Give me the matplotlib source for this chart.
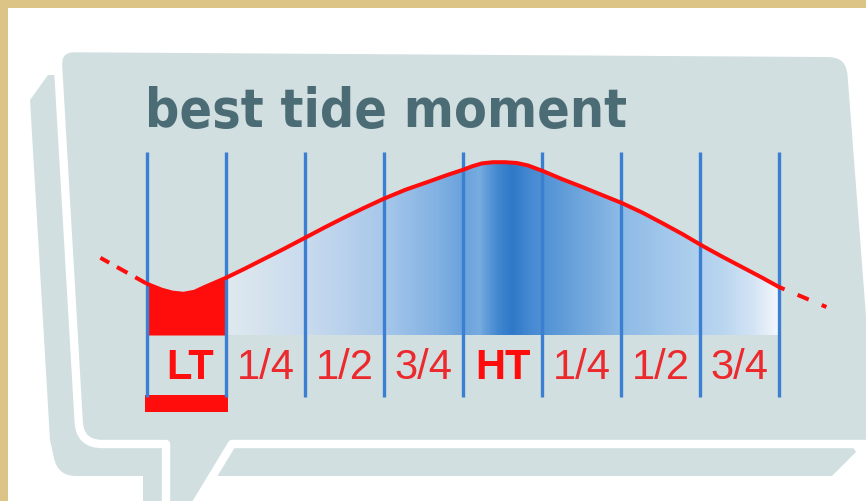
import numpy as np
import matplotlib
matplotlib.use('Agg')
import matplotlib.pyplot as plt
from matplotlib.path import Path
from matplotlib.patches import PathPatch, Rectangle
from matplotlib.colors import LinearSegmentedColormap
from matplotlib import font_manager

# tide stages: one grid line per quarter, LT at 0 and HT at 4
stage_labels = ['LT', '1/4', '1/2', '3/4', 'HT', '1/4', '1/2', '3/4']
stage_lines = np.arange(9)

# tide curve (stage, height)
tide_s = [0.0, 0.1, 0.19, 0.32, 0.46, 0.6, 0.73, 0.86, 1.0, 1.23, 1.46, 1.73,
          2.0, 2.25, 2.51, 2.75, 2.99, 3.27, 3.56, 3.8, 4.0, 4.12, 4.24, 4.38,
          4.53, 4.68, 4.82, 5.01, 5.25, 5.51, 5.76, 6.01, 6.27, 6.52, 6.78,
          7.03, 7.28, 7.53, 7.78, 8.0]
tide_h = [1.28, 1.2, 1.13, 1.06, 1.03, 1.08, 1.2, 1.31, 1.43, 1.65, 1.88, 2.15,
          2.43, 2.69, 2.95, 3.18, 3.4, 3.63, 3.83, 4.0, 4.13, 4.22, 4.29, 4.32,
          4.32, 4.3, 4.24, 4.1, 3.9, 3.7, 3.5, 3.3, 3.06, 2.8, 2.52,
          2.23, 1.96, 1.7, 1.44, 1.2]
# dashed bits before LT and after the last 3/4
before_s, before_h = [-0.59, 0.0], [1.93, 1.28]
after_s, after_h = [8.0, 8.6], [1.2, 0.7]

bubble_col = '#d1dfe0'
title_col = '#4b6b75'
blue = '#3a7fd2'
red = '#ff0d0d'
label_red = '#ec2a2e'

fig = plt.figure(figsize=(8.66, 5.01), dpi=100)

# decoration layer in pixel units
ax = fig.add_axes([0, 0, 1, 1])
ax.set_xlim(0, 866)
ax.set_ylim(501, 0)
ax.axis('off')


def rounded(pts, radii):
    verts, codes = [], []
    n = len(pts)
    for i in range(n):
        p = np.array(pts[i], float)
        r = radii[i]
        if r == 0:
            verts.append(p)
            codes.append(Path.LINETO)
            continue
        a = np.array(pts[i - 1], float)
        b = np.array(pts[(i + 1) % n], float)
        d1 = (a - p) / np.linalg.norm(a - p)
        d2 = (b - p) / np.linalg.norm(b - p)
        verts += [p + d1 * r, p, p + d2 * r]
        codes += [Path.LINETO, Path.CURVE3, Path.CURVE3]
    codes[0] = Path.MOVETO
    verts.append(verts[0])
    codes.append(Path.CLOSEPOLY)
    return Path(verts, codes)


# tan frame
ax.add_patch(Rectangle((0, 0), 866, 8, color='#dcc487', lw=0))
ax.add_patch(Rectangle((0, 0), 8, 501, color='#dcc487', lw=0))

# shadow bubble
shadow = [(48, 75), (600, 75), (856, 452), (832, 476), (215, 476), (195, 510),
          (143, 510), (143, 476), (58, 476), (50, 440), (30, 100)]
ax.add_patch(PathPatch(rounded(shadow, [0, 0, 0, 0, 0, 0, 0, 0, 18, 0, 0]),
                       facecolor=bubble_col, edgecolor='none'))

# main bubble with its tail
main = [(57, 48), (850, 53), (880, 444), (232, 444), (192, 510), (166, 510),
        (166, 444), (80, 444)]
ax.add_patch(PathPatch(rounded(main, [18, 22, 0, 0, 0, 0, 0, 22]),
                       facecolor=bubble_col, edgecolor='white', lw=6,
                       joinstyle='round'))

# title: prefer a condensed bold face if one is installed
title_prop = font_manager.FontProperties(family='Liberation Sans', weight='bold')
cands = []
for f in font_manager.fontManager.ttflist:
    narrow = ('condensed' in str(f.stretch).lower() or 'Condensed' in f.name
              or 'Narrow' in f.name or 'Condensed' in f.fname or 'Narrow' in f.fname)
    w = f.weight if isinstance(f.weight, int) else 700 if 'bold' in str(f.weight) else 400
    if narrow and w >= 600 and 'Oblique' not in f.fname and 'Italic' not in f.fname:
        cands.append(f.fname)
if cands:
    pref = sorted(cands, key=lambda p: (0 if 'DejaVu' in p else 1 if 'Roboto' in p else 2))
    title_prop = font_manager.FontProperties(fname=pref[0])
title = ax.text(145, 127, 'best tide moment', ha='left', va='baseline',
                fontsize=51, fontproperties=title_prop, color=title_col)
title.set_fontsize(51)

# chart layer: x in tide stages, y in tide height
ax2 = fig.add_axes([0, 0, 1, 1])
ax2.patch.set_visible(False)
ax2.axis('off')

# blue gradient under the curve from 1/4 to the last 3/4
stops = [(1.0, '#dfe9ef'), (2.0, '#c9dbee'), (3.0, '#a7c7ea'), (3.7, '#80b0e2'),
         (4.0, '#6aa2dc'), (4.2, '#78ace0'), (4.45, '#4187d0'), (4.62, '#2f79c8'),
         (4.9, '#4a8cd3'), (5.5, '#6fa6dc'), (6.0, '#8dbae6'), (6.7, '#a6caec'),
         (7.3, '#b9d6f0'), (7.7, '#d4e4f5'), (8.0, '#f3f7fc')]
cmap = LinearSegmentedColormap.from_list(
    'tide', [((s - 1.0) / 7.0, c) for s, c in stops])
im = ax2.imshow(np.linspace(0, 1, 500)[None, :], cmap=cmap, aspect='auto',
                extent=[1, 8, 0, 4.6], origin='lower', zorder=2,
                interpolation='bilinear')
sel = [i for i, s in enumerate(tide_s) if s >= 1.0]
poly_x = [tide_s[i] for i in sel] + [8.0, 1.0]
poly_y = [tide_h[i] for i in sel] + [0, 0]
clip = ax2.fill(poly_x, poly_y, facecolor='none', edgecolor='none')[0]
im.set_clip_path(clip)

# red block under the low tide part
lt = [i for i, s in enumerate(tide_s) if s <= 1.0]
ax2.fill_between([tide_s[i] for i in lt], [tide_h[i] for i in lt], 0,
                 color=red, lw=0, zorder=2)
ax2.fill_between([-0.02, 1.02], -1.5, -1.93, color=red, lw=0, zorder=2)

# grid lines
ax2.vlines(stage_lines, -1.55, 4.575, color=blue, lw=2.4, zorder=3)

# tide curve
ax2.plot(tide_s, tide_h, color=red, lw=2.9, zorder=4,
         solid_capstyle='round', solid_joinstyle='round')
ax2.plot(before_s, before_h, color=red, lw=2.9, ls=(0.5, (3, 2.2)), zorder=4)
ax2.plot(after_s, after_h, color=red, lw=2.9, ls=(1.5, (3, 3.5)), zorder=4)

# stage labels
for i, lab in enumerate(stage_labels):
    bold = lab in ('LT', 'HT')
    ax2.text(i + 0.5 + (0.05 if lab == 'LT' else 0), -0.83, lab, ha='center',
             va='center', fontsize=30, family='Liberation Sans',
             fontweight='bold' if bold else 'normal',
             color=red if bold else label_red, zorder=5)

ax2.set_xlim(-147 / 79, (866 - 147) / 79)
ax2.set_ylim((335 - 501) / 40, 335 / 40)

# fit title width to the picture
fig.canvas.draw()
bb = title.get_window_extent()
title.set_fontsize(51 * 483 / bb.width)

fig.savefig('out.png', dpi=100)
